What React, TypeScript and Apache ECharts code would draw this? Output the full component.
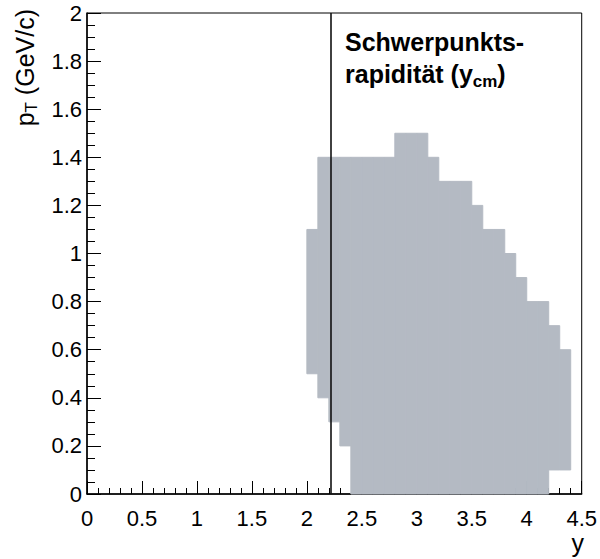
import React, { useEffect, useRef } from "react";
import * as echarts from "echarts";

// ---- data ----
const X_MIN = 0;
const X_MAX = 4.5;
const X_INTERVAL = 0.5;
const Y_MIN = 0;
const Y_MAX = 2;
const Y_INTERVAL = 0.2;
const BIN_WIDTH = 0.1;
const Y_CM = 2.22;

const BIN_STARTS = [
  2.0, 2.1, 2.2, 2.3, 2.4, 2.5, 2.6, 2.7, 2.8, 2.9, 3.0, 3.1,
  3.2, 3.3, 3.4, 3.5, 3.6, 3.7, 3.8, 3.9, 4.0, 4.1, 4.2, 4.3,
];
const PT_LOW = [
  0.5, 0.4, 0.3, 0.2, 0, 0, 0, 0, 0, 0, 0, 0,
  0, 0, 0, 0, 0, 0, 0, 0, 0, 0, 0.1, 0.1,
];
const PT_HIGH = [
  1.1, 1.4, 1.4, 1.4, 1.4, 1.4, 1.4, 1.4, 1.5, 1.5, 1.5, 1.4,
  1.3, 1.3, 1.3, 1.2, 1.1, 1.1, 1.0, 0.9, 0.8, 0.8, 0.7, 0.6,
];

const FILL = "#b4bac3";
const FONT = "'Liberation Sans', Arial, Helvetica, sans-serif";

export default function App() {
  const ref = useRef<HTMLDivElement>(null);

  useEffect(() => {
    if (!ref.current) return;
    const chart = echarts.init(ref.current, null, { renderer: "svg" });

    const cells = BIN_STARTS.map((x0, i) => [x0, x0 + BIN_WIDTH, PT_LOW[i], PT_HIGH[i]]);

    const option: any = {
      animation: false,
      backgroundColor: "#fff",
      textStyle: { fontFamily: FONT },
      grid: {
        left: 87,
        top: 13,
        right: 18,
        bottom: 65,
        show: true,
        borderColor: "#000",
        borderWidth: 1,
        backgroundColor: "transparent",
      },
      xAxis: {
        type: "value",
        min: X_MIN,
        max: X_MAX,
        interval: X_INTERVAL,
        axisLine: { show: true, onZero: false, lineStyle: { color: "#000", width: 1.5 } },
        axisTick: { show: true, inside: true, length: 13, lineStyle: { color: "#000", width: 1 } },
        minorTick: { show: true, splitNumber: 5, length: 6, lineStyle: { color: "#000", width: 1 } },
        splitLine: { show: false },
        minorSplitLine: { show: false },
        axisLabel: {
          color: "#000",
          fontSize: 22,
          fontFamily: FONT,
          margin: 13,
          showMaxLabel: true,
          showMinLabel: true,
        },
      },
      yAxis: {
        type: "value",
        min: Y_MIN,
        max: Y_MAX,
        interval: Y_INTERVAL,
        axisLine: { show: true, onZero: false, lineStyle: { color: "#000", width: 1.5 } },
        axisTick: { show: true, inside: true, length: 14, lineStyle: { color: "#000", width: 1 } },
        minorTick: { show: true, splitNumber: 4, length: 8, lineStyle: { color: "#000", width: 1 } },
        splitLine: { show: false },
        minorSplitLine: { show: false },
        axisLabel: {
          color: "#000",
          fontSize: 22,
          fontFamily: FONT,
          margin: 5,
          padding: [10, 0, 0, 0],
          showMaxLabel: true,
          showMinLabel: true,
        },
      },
      series: [
        {
          type: "custom",
          data: cells,
          encode: { x: [0, 1], y: [2, 3] },
          renderItem: (_params: any, api: any) => {
            const p0 = api.coord([api.value(0), api.value(3)]);
            const p1 = api.coord([api.value(1), api.value(2)]);
            return {
              type: "rect",
              shape: { x: p0[0], y: p0[1], width: p1[0] - p0[0], height: p1[1] - p0[1] },
              style: { fill: FILL, stroke: FILL, lineWidth: 1 },
            };
          },
          silent: true,
          z: 1,
          markLine: {
            silent: true,
            symbol: "none",
            label: { show: false },
            lineStyle: { color: "#111", width: 1.6, type: "solid" },
            data: [{ xAxis: Y_CM }],
            z: 5,
          },
        },
      ],
      graphic: [
        {
          type: "text",
          x: 345,
          y: 26,
          z: 10,
          style: {
            text: "{b|Schwerpunkts-}\n{b|rapidität (y}{s|cm}{b|)}",
            align: "left",
            verticalAlign: "top",
            fill: "#000",
            rich: {
              b: { fontSize: 25, fontWeight: "bold", fontFamily: FONT, lineHeight: 32, fill: "#000" },
              s: { fontSize: 17, fontWeight: "bold", fontFamily: FONT, lineHeight: 18, verticalAlign: "bottom", fill: "#000" },
            },
          },
        },
        {
          type: "text",
          x: 584,
          y: 543,
          z: 10,
          style: {
            text: "y",
            align: "right",
            verticalAlign: "middle",
            font: `25px ${FONT}`,
            fill: "#000",
          },
        },
        {
          type: "text",
          x: 25,
          y: 9,
          rotation: Math.PI / 2,
          z: 10,
          style: {
            text: "{n|p}{s|T}{n| (GeV/c)}",
            align: "right",
            verticalAlign: "middle",
            fill: "#000",
            rich: {
              n: { fontSize: 25, fontFamily: FONT, lineHeight: 30, fill: "#000" },
              s: { fontSize: 17, fontFamily: FONT, lineHeight: 16, verticalAlign: "bottom", fill: "#000" },
            },
          },
        },
      ],
    };

    chart.setOption(option);
    return () => chart.dispose();
  }, []);

  return (
    <div
      ref={ref}
      style={{ position: "fixed", left: 0, top: 0, width: 600, height: 559, background: "#fff" }}
    />
  );
}
